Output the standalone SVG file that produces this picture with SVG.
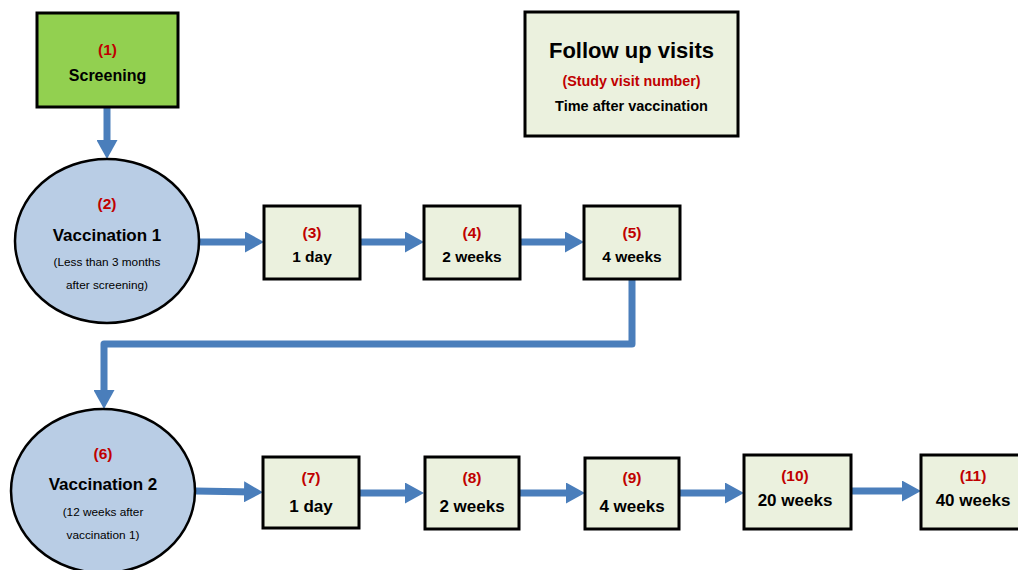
<svg xmlns="http://www.w3.org/2000/svg" width="1018" height="570" viewBox="0 0 1018 570">
<style>
.box{fill:#ebf1de;stroke:#000;stroke-width:3}
.scr{fill:#92d050;stroke:#000;stroke-width:3}
.ell{fill:#b9cde5;stroke:#000;stroke-width:2.5}
.num{font-family:"Liberation Sans",Arial,sans-serif;font-weight:bold;fill:#c00000;text-anchor:middle;font-size:15.5px}
.lbl{font-family:"Liberation Sans",Arial,sans-serif;font-weight:bold;fill:#000;text-anchor:middle;font-size:16px}
.big{font-family:"Liberation Sans",Arial,sans-serif;font-weight:bold;fill:#000;text-anchor:middle;font-size:17px}
.sm{font-family:"Liberation Sans",Arial,sans-serif;fill:#000;text-anchor:middle;font-size:11.8px}
.conn{fill:none;stroke:#4a7ebb;stroke-width:7;stroke-linejoin:round}
</style>
<defs>
<marker id="ah" markerUnits="userSpaceOnUse" markerWidth="19" markerHeight="21" refX="9" refY="10.5" orient="auto">
<path d="M0,0 L19,10.5 L0,21 Z" fill="#4a7ebb"/>
</marker>
</defs>
<g id="connectors">
<path class="conn" d="M107,108 V149" marker-end="url(#ah)"/>
<path class="conn" d="M199,242 H254" marker-end="url(#ah)"/>
<path class="conn" d="M360,242 H414" marker-end="url(#ah)"/>
<path class="conn" d="M520,242 H574" marker-end="url(#ah)"/>
<path class="conn" d="M632,280 V344 H104 V399" marker-end="url(#ah)"/>
<path class="conn" d="M195,491 L253,492" marker-end="url(#ah)"/>
<path class="conn" d="M359,493 H414" marker-end="url(#ah)"/>
<path class="conn" d="M519,493 H575" marker-end="url(#ah)"/>
<path class="conn" d="M679,493 H734" marker-end="url(#ah)"/>
<path class="conn" d="M851,491 H911" marker-end="url(#ah)"/>
</g>
<g id="n1">
<rect class="scr" x="37" y="13" width="141" height="94"/>
<text class="num" x="107.5" y="55">(1)</text>
<text class="lbl" x="107.5" y="81">Screening</text>
</g>
<g id="legend">
<rect class="box" x="525" y="12" width="213" height="124"/>
<text class="big" x="631.5" y="58" style="font-size:22px">Follow up visits</text>
<text class="num" x="631.5" y="86" style="font-size:14.3px">(Study visit number)</text>
<text class="lbl" x="631.5" y="111" style="font-size:14.5px">Time after vaccination</text>
</g>
<g id="n2">
<ellipse class="ell" cx="107" cy="241" rx="92" ry="82"/>
<text class="num" x="107" y="209">(2)</text>
<text class="big" x="107" y="241">Vaccination 1</text>
<text class="sm" x="107" y="266">(Less than 3 months</text>
<text class="sm" x="107" y="289">after screening)</text>
</g>
<g id="n3">
<rect class="box" x="264" y="206" width="96" height="73"/>
<text class="num" x="312" y="238">(3)</text>
<text class="lbl" x="312" y="262" style="font-size:15.5px">1 day</text>
</g>
<g id="n4">
<rect class="box" x="424" y="206" width="96" height="73"/>
<text class="num" x="472" y="238">(4)</text>
<text class="lbl" x="472" y="262" style="font-size:15.5px">2 weeks</text>
</g>
<g id="n5">
<rect class="box" x="584" y="206" width="96" height="73"/>
<text class="num" x="632" y="238">(5)</text>
<text class="lbl" x="632" y="262" style="font-size:15.5px">4 weeks</text>
</g>
<g id="n6">
<ellipse class="ell" cx="103" cy="491" rx="92" ry="82"/>
<text class="num" x="103" y="459">(6)</text>
<text class="big" x="103" y="490">Vaccination 2</text>
<text class="sm" x="103" y="516">(12 weeks after</text>
<text class="sm" x="103" y="539">vaccination 1)</text>
</g>
<g id="n7">
<rect class="box" x="263" y="457" width="96" height="71"/>
<text class="num" x="311" y="483">(7)</text>
<text class="big" x="311" y="512">1 day</text>
</g>
<g id="n8">
<rect class="box" x="425" y="457" width="94" height="72"/>
<text class="num" x="472" y="483">(8)</text>
<text class="big" x="472" y="512">2 weeks</text>
</g>
<g id="n9">
<rect class="box" x="585" y="458" width="94" height="71"/>
<text class="num" x="632" y="483">(9)</text>
<text class="big" x="632" y="512">4 weeks</text>
</g>
<g id="n10">
<rect class="box" x="744" y="455" width="107" height="74"/>
<text class="num" x="795" y="481">(10)</text>
<text class="big" x="795" y="506">20 weeks</text>
</g>
<g id="n11">
<rect class="box" x="921" y="455" width="105" height="74"/>
<text class="num" x="973" y="481">(11)</text>
<text class="big" x="973" y="506">40 weeks</text>
</g>
</svg>
